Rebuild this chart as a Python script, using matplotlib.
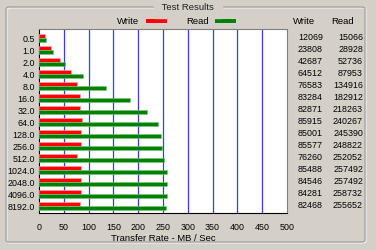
import numpy as np
import matplotlib.pyplot as plt
from matplotlib.patches import FancyBboxPatch, Rectangle

plt.rcParams['font.family'] = ['Liberation Sans', 'DejaVu Sans']

sizes = ['0.5', '1.0', '2.0', '4.0', '8.0', '16.0', '32.0', '64.0', '128.0',
         '256.0', '512.0', '1024.0', '2048.0', '4096.0', '8192.0']
write_kb = [12069, 23808, 42687, 64512, 76583, 83284, 82871, 85915, 85001,
            85577, 76260, 85488, 84546, 84281, 82468]
read_kb = [15066, 28928, 52736, 87953, 134916, 182912, 218263, 240267, 245390,
           248822, 252052, 257492, 257492, 258732, 255652]
xticks = [0, 50, 100, 150, 200, 250, 300, 350, 400, 450, 500]

bg = '#d4d0c8'
W, H = 376, 250
fs = 6.4
fig = plt.figure(figsize=(W / 100, H / 100), dpi=100, facecolor=bg)

# group box frame (etched look)
fig.patches.append(FancyBboxPatch((6 / W, 8 / H), 359 / W, 235 / H,
                                  boxstyle='round,pad=0,rounding_size=0.008',
                                  transform=fig.transFigure, fill=False,
                                  ec='#9a9a9a', lw=0.8))
fig.patches.append(FancyBboxPatch((7 / W, 7 / H), 359 / W, 235 / H,
                                  boxstyle='round,pad=0,rounding_size=0.008',
                                  transform=fig.transFigure, fill=False,
                                  ec='white', lw=0.6, zorder=0))
fig.text(188 / W, 1 - 8 / H, ' Test Results ', ha='center', va='center',
         fontsize=6.8, color='#202020', backgroundcolor=bg)

# legend
fig.text(139 / W, 1 - 21 / H, 'Write', ha='right', va='center', fontsize=6.8)
fig.add_artist(Rectangle((146 / W, 1 - 23 / H), 21 / W, 4 / H, lw=0,
                         transform=fig.transFigure, color='#ff0000'))
fig.text(209 / W, 1 - 21 / H, 'Read', ha='right', va='center', fontsize=6.8)
fig.add_artist(Rectangle((215 / W, 1 - 23 / H), 21 / W, 4 / H, lw=0,
                         transform=fig.transFigure, color='#008000'))

ax = fig.add_axes([39 / W, 1 - 213 / H, 248 / W, 184 / H])
ax.set_facecolor('white')
y = np.arange(len(sizes))
write = np.array(write_kb) / 1000
read = np.array(read_kb) / 1000
ax.barh(y - 0.2, write, height=0.34, color='#ff0000', ec='#ffb0b0', lw=0.4, zorder=3)
ax.barh(y + 0.14, read, height=0.34, color='#008000', ec='#80c080', lw=0.4, zorder=3)
for xv in xticks[1:-1]:
    ax.axvline(xv, color='#3a3aff', lw=0.9, zorder=1)
ax.set_xlim(0, 500)
ax.set_ylim(len(sizes) - 1 + 0.56, -0.75)
ax.set_yticks(y)
ax.set_yticklabels(sizes, fontsize=fs)
ax.set_xticks(xticks)
ax.set_xticklabels([str(v) for v in xticks], fontsize=fs)
ax.tick_params(length=0, pad=3)
ax.tick_params(axis='x', pad=7)
ax.set_xlabel('Transfer Rate - MB / Sec', fontsize=6.8, labelpad=1.5)
ax.spines['left'].set_color('black')
ax.spines['bottom'].set_color('black')
ax.spines['top'].set_color('#808080')
ax.spines['right'].set_color('#808080')
for s in ax.spines.values():
    s.set_linewidth(0.8)

# numeric columns
fig.text(304 / W, 1 - 21 / H, 'Write', ha='center', va='center', fontsize=6.8)
fig.text(343 / W, 1 - 21 / H, 'Read', ha='center', va='center', fontsize=6.8)
for i in range(len(sizes)):
    yy = 1 - (38 + i * 12) / H
    fig.text(323 / W, yy, str(write_kb[i]), ha='right', va='center', fontsize=fs)
    fig.text(363 / W, yy, str(read_kb[i]), ha='right', va='center', fontsize=fs)

fig.savefig('out.png', dpi=100, facecolor=bg)
